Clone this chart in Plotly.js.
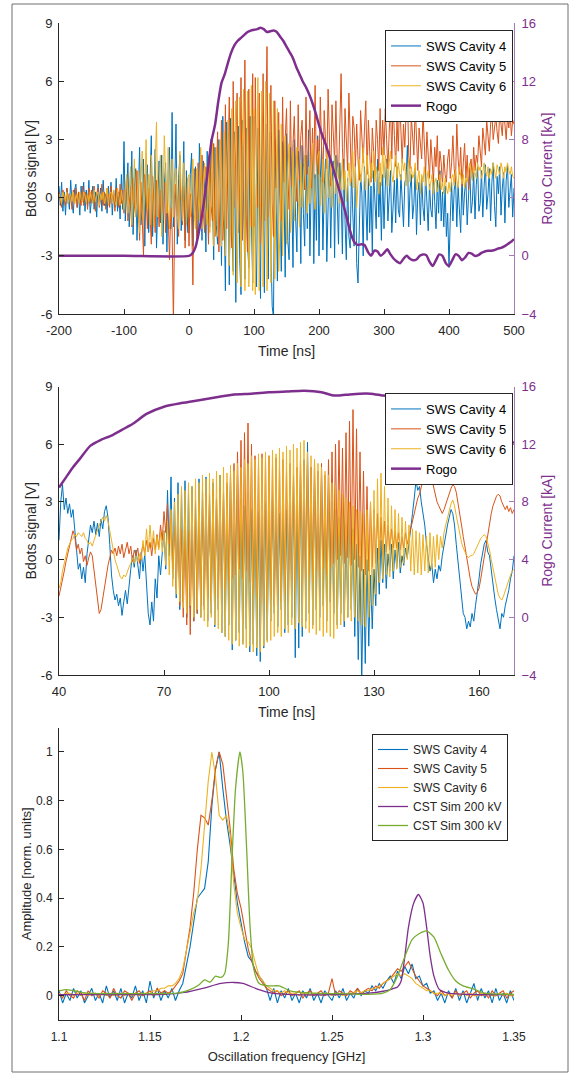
<!DOCTYPE html>
<html>
<head>
<meta charset="utf-8">
<script src="https://cdn.plot.ly/plotly-3.0.1.min.js"></script>
<style>html,body{margin:0;padding:0;background:#fff;}#chart{width:577px;height:1074px;}</style>
</head>
<body>
<div id="chart"></div>
<script>
// ---------- sampling grids (uniform instrument sampling) ----------
function grid(start, step, n) { const a = []; for (let i = 0; i < n; i++) a.push(+(start + i * step).toFixed(4)); return a; }

// ---------- Panel 1: full pulse, -200..500 ns, 2 ns samples ----------
const time1 = grid(-200, 2, 351);
const cav4_p1 = [
 0.6,-0.4,0.8,-0.7,0.3,-0.9,0.5,0.1,-0.6,0.9,-0.3,-0.8,0.4,0.7,-0.5,0.2,-0.9,0.6,-0.2,0.8,
 -0.7,0.4,-0.4,0.9,-0.8,0.1,0.6,-0.6,0.3,-1.0,0.7,-0.2,0.5,-0.7,0.9,-0.4,0.2,-0.8,0.6,-0.3,
 0.8,-0.9,0.4,-0.5,1.0,-0.7,0.3,-1.1,1.2,-0.6,
 2.9,-1.2,0.8,1.8,-1.5,-0.4,2.4,-1.9,0.6,1.5,-2.2,0.3,2.6,-1.4,-0.6,2.0,-2.5,1.1,1.7,-1.8,
 0.4,3.2,-2.0,0.9,2.5,-2.6,-0.5,1.9,-1.3,2.2,-2.4,0.6,1.8,-2.8,1.2,2.6,-1.6,4.4,-1.5,0.5,
 3.8,-2.4,1.0,2.2,-1.7,-0.3,2.9,-2.2,1.4,-1.8,
 -1.8,1.2,2.3,-2.5,0.4,1.6,-1.2,-2.1,2.8,-0.6,-2.2,1.9,0.5,-2.8,2.4,-1.0,-1.5,3.0,-0.8,-3.2,
 2.6,-1.4,-2.4,3.0,0.6,-3.5,4.2,-2.0,-4.8,3.9,1.2,-4.5,4.1,-1.6,-3.8,3.4,-5.4,2.2,3.7,-3.2,
 -5.0,4.0,0.8,-4.2,3.6,-2.4,-3.6,4.2,-1.2,-4.4,
 4.2,-2.0,-4.6,3.6,0.5,-5.2,4.3,-1.8,-4.9,3.8,1.0,-4.2,3.4,-2.6,-5.6,-6.2,3.0,0.2,-4.3,3.5,
 -1.2,-3.8,2.9,0.8,-4.1,3.3,-2.2,-3.2,2.6,0.4,-3.6,3.0,-1.0,-2.8,2.4,1.2,-3.4,2.7,-0.8,-2.5,
 2.2,-1.6,3.5,-3.0,0.6,2.4,-3.4,1.2,-2.2,3.2,
 -3.0,1.0,2.6,-2.7,0.4,2.0,-3.3,-1.0,2.4,-2.6,0.8,1.9,-3.1,2.2,-0.6,-2.4,1.8,0.2,-2.9,2.0,
 -1.2,-3.2,1.0,-2.0,-2.6,1.5,-0.8,-2.5,1.8,-3.4,-4.4,-1.4,1.2,0.2,-3.0,1.6,-0.6,-2.2,1.0,-1.8,
 0.6,-2.8,1.4,-0.4,-1.6,2.0,-1.0,0.8,-2.2,1.2,
 -1.6,0.6,2.0,-1.2,0.2,1.4,-1.8,-0.4,0.9,-1.3,1.6,-0.6,-1.0,1.2,-0.2,-1.5,0.8,1.0,2.7,-1.5,
 0.4,1.2,-1.1,-0.3,1.5,-1.9,0.2,0.8,-1.4,1.1,-0.5,-1.2,1.3,0.1,-1.7,0.7,-0.6,-1.0,1.2,-0.2,
 -1.6,0.9,-0.8,1.4,-1.2,0.3,-1.5,0.6,-2.0,-0.8,
 -3.6,-1.0,0.8,-1.2,0.4,1.0,-1.5,0.6,-0.4,-1.8,1.2,-0.9,0.3,0.9,-1.4,0.5,1.5,-0.8,-0.2,1.3,
 -1.1,0.7,1.6,-0.7,-0.3,1.4,-1.0,0.6,1.7,-0.6,0.2,1.5,-1.2,0.8,1.8,-0.4,-1.5,1.1,0.2,1.6,
 -0.9,0.5,1.3,-1.3,0.9,1.7,-0.5,0.4,1.2,-1.0,
 0.5];
const cav5_p1 = [
 0.3,-0.2,-0.5,0.4,0.1,-0.4,0.5,-0.3,0.2,0.0,-0.6,0.4,-0.3,0.5,-0.5,0.3,-0.1,-0.4,0.6,-0.4,
 0.3,0.1,-0.6,0.5,-0.3,0.4,-0.2,0.6,-0.7,0.2,0.5,-0.5,-0.1,0.7,-0.4,0.3,-0.6,0.5,0.0,-0.5,
 0.6,-0.3,0.4,-0.7,0.5,-0.2,-0.5,0.7,-0.3,0.4,
 -0.8,0.4,0.9,-1.2,-0.2,0.6,-1.5,1.0,-0.4,-0.9,1.4,-0.6,-2.2,0.8,-1.0,-3.0,1.2,0.2,-1.6,0.5,
 -0.8,-2.4,1.1,-0.4,-1.8,0.9,0.2,-1.5,0.4,-1.2,-0.6,0.8,-1.8,-0.2,-1.0,-3.2,-0.5,-1.6,-6.5,-1.0,
 0.7,-0.8,-2.0,1.2,-0.4,-1.4,0.6,-2.6,-0.6,1.0,
 -2.5,0.2,-1.0,-4.5,1.5,-0.6,-2.2,1.8,0.4,-1.5,2.2,-0.8,-1.8,1.6,0.3,-2.4,2.0,-0.4,-1.2,2.8,
 -2.0,0.6,3.4,-2.8,1.0,4.0,-2.2,-0.6,4.8,-1.6,2.0,5.2,-1.0,-2.6,6.0,-0.5,2.4,5.4,-1.8,0.8,
 6.2,-2.2,1.4,7.1,-0.8,-2.8,5.6,0.6,-1.5,6.4,
 -1.5,6.2,0.8,-0.5,5.4,-2.4,0.2,6.4,-1.2,3.0,7.8,-1.0,1.6,5.8,-0.2,-2.0,5.0,0.5,2.2,4.4,
 0.2,-1.2,5.2,0.8,3.0,4.6,1.2,-0.6,5.0,0.6,2.8,4.2,1.5,-0.2,4.8,0.9,3.2,4.0,1.8,0.4,
 5.2,1.2,2.6,4.5,0.5,3.6,1.0,5.8,1.4,3.0,
 1.2,5.2,2.6,0.8,4.5,3.0,1.5,5.6,2.2,0.6,4.8,3.4,1.8,5.0,2.0,1.0,4.2,6.4,2.6,1.0,
 4.6,3.2,1.4,5.4,2.4,0.8,4.2,3.6,1.6,3.8,2.0,0.9,4.5,2.8,1.8,3.6,5.0,1.2,4.0,2.4,
 0.8,3.6,2.6,1.2,4.0,3.0,1.4,4.6,2.2,4.0,
 2.2,4.6,3.0,1.5,3.4,4.8,2.0,5.0,3.2,1.6,4.0,2.4,5.2,3.6,1.8,3.8,2.6,4.4,5.6,2.2,
 1.5,4.2,3.0,2.2,4.8,3.4,1.4,3.6,2.8,2.0,4.4,3.0,1.2,3.4,2.2,1.0,3.0,2.0,0.8,2.6,
 1.6,3.2,0.9,2.4,1.8,0.6,2.2,1.2,0.8,2.0,
 2.5,1.0,1.8,3.2,1.5,0.8,3.8,2.0,1.2,2.6,0.6,1.8,2.8,1.0,2.2,0.4,1.6,2.0,0.9,2.6,
 1.4,2.2,1.8,3.2,2.4,1.6,3.6,2.8,2.2,4.0,3.0,2.4,3.8,4.4,3.0,3.6,4.2,3.4,2.8,4.4,
 3.6,3.2,4.6,3.8,3.0,4.2,3.6,4.4,3.2,4.0,
 3.8];
const cav6_p1 = [
 0.2,-0.1,-0.3,0.3,0.0,-0.2,0.3,-0.3,0.1,0.2,-0.2,0.3,-0.3,0.0,0.2,-0.3,0.3,-0.1,-0.2,0.3,
 0.1,-0.3,0.2,-0.2,0.3,0.0,-0.3,0.4,-0.2,0.1,0.3,-0.4,0.2,-0.1,0.3,-0.3,0.0,0.5,-0.4,0.2,
 0.3,-0.3,0.4,-0.2,-0.4,0.5,0.1,-0.4,0.4,-0.2,
 -0.6,0.4,1.2,-0.8,0.2,1.6,-1.4,0.6,2.0,-1.0,-0.2,1.4,-1.8,0.8,2.4,-1.2,0.3,3.0,-0.6,1.2,
 -1.4,2.2,0.4,-1.5,1.8,3.9,-1.0,0.6,2.2,-2.0,-0.4,3.2,1.0,-0.8,2.6,-1.6,0.4,2.0,-1.0,0.8,
 1.5,-0.9,-1.6,2.4,0.2,-1.2,1.8,-0.4,-1.4,1.0,
 1.2,-1.0,0.6,2.0,-0.8,-1.6,1.5,0.4,-1.2,2.6,-1.6,0.8,1.8,-0.5,-1.4,2.2,-1.8,0.6,3.0,-2.5,
 -1.0,2.6,-2.0,1.2,3.0,-2.5,-0.8,3.4,-3.0,1.8,4.0,-3.5,-1.2,4.6,-4.0,2.2,5.0,-4.4,-0.8,5.2,
 -4.6,2.6,5.6,-4.8,0.4,5.5,-4.6,-2.0,5.8,-4.8,
 4.6,-5.0,1.2,6.2,-4.8,-0.6,5.5,-4.6,1.6,6.0,-4.8,-0.2,5.4,-4.4,1.0,5.0,-4.2,0.2,4.6,-3.8,
 -1.8,3.8,-3.0,0.6,3.2,-2.4,1.4,2.8,-1.8,-0.4,2.4,-1.2,1.0,2.6,0.0,-1.5,1.8,-0.5,0.8,2.2,
 0.2,-0.8,1.6,-0.3,1.2,2.8,0.4,-0.6,1.4,2.2,
 2.4,-0.4,0.8,2.0,-0.8,1.2,2.6,0.0,1.0,1.8,-0.5,0.6,2.2,0.2,1.4,1.6,-0.3,0.9,2.0,0.4,
 1.4,-0.2,0.8,1.8,0.6,1.2,2.4,0.5,1.6,-0.5,0.8,2.0,0.8,1.4,2.6,1.0,0.4,2.2,1.2,0.6,
 1.8,1.0,2.4,0.8,1.6,1.2,0.2,1.8,0.6,2.6,
 1.0,2.2,1.6,0.6,1.8,2.4,1.2,0.8,1.6,2.2,1.0,1.8,1.2,0.9,2.0,1.4,1.8,0.6,1.4,2.0,
 0.8,1.6,1.0,1.2,1.8,0.4,1.0,1.4,0.2,1.2,0.8,1.6,0.6,1.0,1.4,0.4,0.9,1.2,0.2,0.8,
 1.0,0.3,0.6,1.2,0.4,0.8,0.2,1.0,0.5,0.2,
 0.8,0.3,1.0,1.2,0.6,1.4,0.9,0.5,1.6,1.0,0.7,1.2,0.5,1.0,0.8,1.4,1.8,1.2,0.9,1.6,
 1.2,1.0,1.8,1.4,1.6,1.0,1.3,1.8,1.4,1.1,1.6,1.0,1.5,1.2,1.8,1.3,1.0,1.7,1.4,1.2,
 1.8,1.5,1.0,1.6,1.3,1.8,1.4,1.2,1.6,1.1,
 1.0];
const rogoT1 = [-200, -100].concat(grid(0, 5, 101));
const rogo1 = [0, 0,
 0.0,0.15,0.6,1.6,2.8,4.4,6.3,8.0,9.0,10.6,
 11.9,12.5,13.3,14.0,14.5,14.8,15.0,15.2,15.4,15.5,
 15.55,15.6,15.7,15.6,15.4,15.45,15.5,15.4,15.1,14.8,
 14.4,14.0,13.6,13.0,12.5,12.0,11.6,11.1,10.5,9.8,
 9.0,8.3,7.7,7.0,6.3,5.5,4.7,3.9,3.1,2.2,
 1.4,0.9,0.75,0.8,0.75,0.3,0.0,0.35,0.3,0.0,
 0.2,0.45,0.1,-0.2,-0.4,-0.5,-0.2,0.0,-0.2,-0.3,
 -0.25,0.0,0.1,0.05,-0.4,-0.7,-0.3,0.1,0.0,-0.5,
 -0.7,-0.3,0.1,0.0,-0.3,-0.1,0.2,0.15,0.0,0.05,
 0.2,0.3,0.35,0.35,0.4,0.5,0.55,0.65,0.8,0.95,
 1.15];

// ---------- Panel 2: zoom 40..170 ns, 0.5 ns samples ----------
const time2 = grid(40, 0.5, 261);
const cav4_p2 = [
 1.0,3.0,3.9,2.6,3.2,2.4,2.9,2.2,2.6,1.5,0.2,-0.5,-0.2,-1.0,-0.4,-1.2,0.3,1.2,1.8,1.4,
 2.0,1.3,1.9,1.2,2.1,1.6,2.5,2.8,2.2,0.8,-0.8,-1.6,-2.1,-1.8,-2.4,-2.0,-2.9,-2.2,-1.6,-2.3,
 -1.2,-0.5,0.2,-0.4,0.5,-0.2,-1.0,0.4,-0.6,0.3,-1.5,-2.8,-3.4,-2.2,-3.2,-1.0,-2.0,0.2,-0.8,0.5,
 1.5,-0.5,3.6,0.2,4.3,-1.0,3.2,-2.0,4.0,-2.6,3.6,-2.2,4.1,-3.0,3.5,-2.5,3.8,-3.2,3.0,-2.8,
 4.2,-3.0,3.6,-2.4,4.3,-3.2,3.4,-2.8,4.0,-3.5,3.2,-2.6,4.4,-3.8,3.5,-4.0,3.8,-3.4,4.5,-4.7,
 3.6,-4.2,4.4,-3.8,3.2,-4.4,2.8,-3.6,3.5,-4.8,2.6,-4.4,3.2,-5.0,2.5,-5.3,2.8,-4.6,3.0,-4.2,
 2.8,-3.2,3.4,-2.8,3.0,-3.5,2.4,-2.6,3.2,-3.8,2.6,-3.4,3.8,-3.0,4.2,-5.1,3.6,-4.6,4.6,-4.0,
 5.2,-3.2,6.1,-2.8,4.8,-3.4,4.2,-2.6,3.6,-3.0,4.4,-2.4,3.2,-3.2,3.8,-2.2,3.0,-2.8,2.6,-3.4,
 2.2,-2.8,2.6,-3.5,1.8,-3.0,2.4,-2.6,1.6,-4.0,0.8,-5.2,0.2,-6.3,-0.5,-5.4,0.0,-4.5,-0.8,-3.6,
 -0.5,-2.4,0.6,-1.8,1.0,-1.2,0.8,-1.5,0.3,-0.6,0.8,-1.0,0.5,-0.4,0.9,-0.7,0.2,-0.3,0.6,0.1,
 0.8,1.4,2.4,3.2,4.1,3.6,3.8,3.0,2.4,1.8,0.8,0.0,-0.6,-0.2,-1.2,-0.5,-1.0,-0.3,-0.6,0.2,
 0.8,1.2,1.8,2.2,2.6,2.4,1.8,0.8,-0.2,-1.2,-2.0,-2.8,-3.0,-3.6,-3.2,-3.5,-2.8,-3.2,-2.4,-1.8,
 -1.0,-0.2,0.4,0.8,1.0,0.4,0.2,-0.6,-1.2,-2.0,-2.6,-3.2,-3.6,-2.8,-3.0,-2.4,-2.0,-1.6,-1.0,-0.6,
 0.2];
const cav5_p2 = [
 -1.9,-1.5,-1.0,-0.6,-0.1,0.3,0.8,1.1,1.5,1.2,0.5,0.8,0.3,0.6,-0.1,0.2,-0.3,0.1,0.4,0.2,
 -0.5,-1.4,-2.2,-2.8,-2.6,-2.0,-1.4,-0.8,-0.3,0.1,0.5,0.3,0.6,0.2,0.7,0.3,0.8,0.1,0.5,0.9,
 0.3,0.7,-0.1,0.5,0.2,0.6,-0.2,0.4,0.8,0.3,1.0,0.4,0.9,0.2,1.1,0.5,1.3,0.6,1.8,1.0,
 2.5,1.4,2.9,0.8,2.2,-0.5,1.8,-1.5,2.4,-2.4,1.6,-3.0,2.0,-3.4,1.5,-3.9,2.6,-3.2,2.2,-2.8,
 3.0,-2.4,2.8,-2.6,3.4,-2.0,3.0,-2.2,3.6,-1.8,3.2,-2.0,3.8,-1.5,3.5,-1.6,4.0,-1.2,4.4,-1.0,
 5.0,-0.8,5.6,-0.5,6.2,-1.0,6.6,-0.6,7.1,-1.2,6.0,-1.8,5.4,-2.0,5.0,-2.4,5.5,-2.2,5.2,-2.6,
 5.4,-2.0,5.0,-2.4,5.3,-1.8,4.8,-2.2,5.2,-1.6,4.6,-1.8,5.0,-1.2,4.4,-1.6,4.8,-1.0,5.2,-1.4,
 5.0,-1.0,5.4,-0.8,4.8,-1.2,5.2,-0.6,4.6,-1.0,5.0,-0.5,4.4,-0.8,5.2,-0.4,5.6,-0.2,6.0,0.0,
 6.2,0.2,5.8,-0.2,6.6,0.1,7.2,-0.3,7.8,0.0,6.8,-0.4,5.6,-0.6,4.6,-0.8,3.8,-0.6,3.0,-0.4,
 2.6,-0.2,2.4,0.0,2.2,0.2,2.0,0.4,1.8,0.5,1.6,0.6,1.5,0.6,1.4,0.5,1.2,0.6,1.4,0.8,
 1.2,1.6,2.0,2.4,2.8,3.2,3.4,3.8,4.2,4.5,4.8,4.9,4.6,4.2,3.8,3.4,3.0,2.8,2.6,2.4,
 2.6,2.9,3.2,3.5,3.7,3.9,3.8,3.5,3.0,2.4,1.8,1.2,0.6,0.0,-0.6,-1.0,-1.4,-1.6,-1.8,-1.7,
 -1.5,-1.0,-0.4,0.2,0.8,1.4,1.9,2.4,2.8,3.1,3.3,3.4,3.3,3.0,2.8,2.6,2.8,2.5,2.7,2.4,
 2.6];
const cav6_p2 = [
 -1.5,-1.2,-0.6,-0.2,0.3,0.6,0.8,1.0,1.1,1.3,1.2,1.4,1.3,1.2,1.4,1.1,1.0,0.8,0.9,0.7,
 1.0,1.3,1.5,1.8,2.0,2.2,2.0,2.3,2.0,1.5,0.8,0.3,0.0,-0.3,-0.6,-0.9,-1.0,-0.8,-0.9,-0.6,
 -0.4,-0.2,0.1,-0.2,0.2,-0.1,0.3,0.0,1.0,0.2,1.6,0.4,1.8,0.6,1.5,0.3,1.2,0.5,1.4,0.4,
 1.5,-0.3,2.0,-0.8,2.6,-1.4,3.0,-1.8,3.4,-2.2,3.8,-2.5,3.6,-2.8,4.0,-2.4,3.8,-3.0,4.2,-2.6,
 4.0,-3.0,4.4,-3.2,4.2,-3.5,4.5,-3.0,4.2,-3.4,4.6,-3.6,4.4,-3.8,4.8,-4.0,4.5,-4.2,4.9,-4.4,
 4.6,-4.2,5.0,-4.5,4.8,-4.4,5.2,-4.6,5.0,-4.5,5.4,-4.8,5.2,-4.6,5.5,-4.8,5.3,-4.5,5.6,-4.3,
 5.4,-4.2,5.7,-4.0,5.5,-3.8,5.8,-4.0,5.6,-3.6,5.9,-3.8,5.7,-3.4,6.0,-3.6,5.8,-3.3,6.1,-3.5,
 6.2,-3.6,5.6,-3.8,5.4,-3.6,5.2,-3.9,5.0,-3.7,4.8,-4.0,4.6,-3.8,4.4,-4.0,4.0,-4.1,3.8,-3.6,
 3.6,-3.4,3.4,-3.2,3.2,-3.0,3.0,-3.2,2.8,-3.0,2.6,-3.2,2.5,-3.4,2.4,-3.5,2.6,-3.0,3.0,-2.4,
 3.6,-1.8,4.2,-1.2,4.5,-1.0,3.8,-0.8,3.2,-0.9,2.8,-0.6,2.6,-0.5,2.4,-0.4,2.2,-0.2,2.0,0.0,
 1.8,-0.6,1.6,-0.8,1.5,-0.7,1.4,-0.8,1.3,-0.6,1.2,-0.7,1.4,-0.5,1.2,-0.4,1.3,0.0,1.2,0.6,
 1.4,1.8,2.2,2.6,2.9,3.1,2.8,2.3,1.8,1.3,0.9,0.6,0.4,0.2,0.1,0.2,0.2,0.3,0.5,0.7,
 0.9,1.1,1.2,1.3,1.2,0.9,0.5,0.0,-0.5,-1.0,-1.4,-1.8,-2.0,-2.1,-1.9,-1.6,-1.3,-1.0,-0.8,-0.6,
 -0.5];
const rogoT2 = [40,42,44,46,49,52,55,58,61,65,70,75,80,85,90,95,100,105,110,115,118,120,123,126,129,132,135,140,145,150,155,160,165,168,170];
const rogo2 = [9.0,9.7,10.4,11.0,11.9,12.3,12.6,13.0,13.4,14.1,14.6,14.85,15.05,15.25,15.45,15.5,15.6,15.65,15.7,15.6,15.4,15.38,15.45,15.5,15.5,15.4,15.3,15.0,14.6,14.1,13.6,13.1,12.6,12.3,12.1];

// ---------- Panel 3: spectra, 1.10..1.35 GHz, 2 MHz bins ----------
const freq = grid(1.1, 0.002, 126);
const cav4_fft = [
 0.02,-0.03,0.01,-0.02,0.03,-0.01,0.02,-0.03,0.00,0.03,-0.02,0.01,-0.03,0.04,-0.01,0.02,-0.02,0.03,-0.03,0.01,-0.01,0.04,-0.02,0.02,-0.03,
 0.06,-0.01,0.03,-0.02,0.02,-0.01,0.03,-0.02,0.02,0.05,0.12,0.20,0.30,0.40,0.42,0.44,0.55,0.78,0.93,1.0,0.85,0.72,0.62,0.50,0.38,
 0.30,0.22,0.16,0.14,0.10,0.08,0.06,0.03,-0.02,0.03,-0.03,0.02,-0.01,0.03,-0.02,0.01,-0.03,0.02,-0.01,0.03,-0.02,0.01,-0.03,0.02,0.00,
 -0.02,0.02,-0.01,0.03,-0.02,0.01,-0.01,0.03,0.00,0.02,0.01,0.04,0.02,0.05,0.03,0.06,0.08,0.05,0.10,0.07,0.12,0.09,0.13,0.07,0.08,
 0.04,0.05,0.01,0.02,-0.02,0.01,-0.03,0.02,-0.01,0.03,-0.02,0.02,-0.03,0.01,0.05,-0.02,0.03,-0.01,0.02,-0.03,0.03,-0.02,0.01,-0.03,0.02,-0.02];
const cav5_fft = [
 0.01,-0.01,0.02,0.00,-0.01,0.02,0.01,-0.02,0.02,0.00,0.01,-0.01,0.02,0.01,-0.01,0.03,0.00,-0.01,0.02,0.01,-0.02,0.01,0.02,0.00,0.01,
 0.02,0.00,0.03,0.01,0.02,0.01,0.02,0.04,0.06,0.09,0.18,0.28,0.42,0.60,0.74,0.73,0.70,0.80,0.93,1.0,0.95,0.83,0.69,0.52,0.42,
 0.36,0.28,0.19,0.14,0.10,0.07,0.05,0.03,0.02,0.01,0.02,0.00,0.01,0.02,0.00,0.01,0.02,-0.01,0.01,0.02,0.00,0.01,0.02,0.00,0.01,
 0.07,0.00,0.02,0.01,0.00,0.02,0.01,0.03,0.01,0.02,0.03,0.02,0.04,0.03,0.05,0.06,0.07,0.09,0.11,0.10,0.12,0.14,0.11,0.08,0.06,
 0.04,0.03,0.02,0.01,0.00,0.02,0.00,0.01,-0.01,0.02,0.00,0.01,0.02,-0.01,0.01,0.02,0.00,0.01,-0.01,0.02,0.00,0.01,0.02,-0.01,0.01,0.02];
const cav6_fft = [
 0.01,0.00,0.01,0.01,0.00,0.01,0.00,0.01,0.00,0.01,0.01,0.00,0.01,0.00,0.01,0.00,0.01,0.01,0.00,0.01,0.00,0.01,0.00,0.01,0.01,
 0.01,0.02,0.02,0.03,0.03,0.04,0.04,0.05,0.07,0.11,0.18,0.26,0.34,0.39,0.52,0.70,0.88,1.0,0.90,0.74,0.72,0.74,0.66,0.46,0.34,
 0.28,0.23,0.22,0.19,0.13,0.08,0.06,0.04,0.03,0.02,0.02,0.01,0.02,0.01,0.01,0.01,0.00,0.01,0.01,0.00,0.01,0.01,0.00,0.01,0.01,
 0.00,0.01,0.01,0.00,0.01,0.01,0.01,0.02,0.01,0.02,0.02,0.03,0.03,0.04,0.05,0.06,0.07,0.08,0.09,0.08,0.09,0.08,0.07,0.05,0.04,
 0.03,0.02,0.02,0.01,0.01,0.01,0.00,0.01,0.00,0.01,0.00,0.01,0.00,0.01,0.00,0.00,0.01,0.00,0.01,0.00,0.00,0.01,0.00,0.01,0.00,0.00];
const sim200F = [1.100,1.140,1.158,1.169,1.179,1.189,1.196,1.201,1.209,1.217,1.229,1.250,1.270,1.278,1.282,1.286,1.288,1.290,1.292,1.2949,1.2975,1.300,1.302,1.304,1.306,1.309,1.314,1.330,1.350];
const sim200A = [0.004,0.004,0.005,0.013,0.03,0.05,0.054,0.05,0.027,0.01,0.004,0.004,0.01,0.018,0.025,0.035,0.06,0.16,0.28,0.38,0.415,0.38,0.28,0.16,0.08,0.025,0.01,0.004,0.004];
const sim300F = [1.100,1.104,1.108,1.115,1.130,1.150,1.165,1.172,1.177,1.180,1.183,1.186,1.189,1.191,1.193,1.195,1.197,1.1994,1.201,1.203,1.205,1.207,1.210,1.215,1.221,1.227,1.239,1.255,1.270,1.278,1.282,1.286,1.290,1.294,1.298,1.302,1.306,1.310,1.314,1.318,1.322,1.328,1.334,1.350];
const sim300A = [0.02,0.025,0.02,0.01,0.008,0.008,0.01,0.025,0.045,0.065,0.055,0.08,0.075,0.09,0.21,0.55,0.85,1.0,0.92,0.62,0.28,0.11,0.05,0.04,0.04,0.02,0.01,0.008,0.005,0.01,0.025,0.08,0.16,0.23,0.255,0.266,0.24,0.17,0.105,0.06,0.04,0.027,0.01,0.005];

// ---------- tick labels ----------
const ticks1X = [-200,-100,0,100,200,300,400,500];
const ticks2X = [40,70,100,130,160];
const ticksV = [-6,-3,0,3,6,9];
const ticksKA = [-4,0,4,8,12,16];
const ticks3X = [1.1,1.15,1.2,1.25,1.3,1.35];
const ticks3XText = ['1.1','1.15','1.2','1.25','1.3','1.35'];
const ticks3Y = [0,0.2,0.4,0.6,0.8,1];
const ticks3YText = ['0','0.2','0.4','0.6','0.8','1'];

// ---------- styling ----------
const FONT = 'Liberation Sans, Arial, Helvetica, sans-serif';
const AX = '#262626';
const C4 = '#0072BD', C5 = '#D95319', C6 = '#EDB120', CP = '#7E2F8E', CG = '#77AC30';
const XD = [59/577, 514/577];
const Y1 = [1-314/1074, 1-23.3/1074];
const Y2 = [1-675/1074, 1-386.5/1074];
const Y3 = [1-1020/1074, 1-727.6/1074];

function line(x, y, name, color, w, xa, ya, leg, shape) {
  return {type:'scatter', mode:'lines', x:x, y:y, name:name, xaxis:xa, yaxis:ya, legend:leg,
    line:{color:color, width:w, shape:shape || 'linear', smoothing:0.6}, hoverinfo:'skip'};
}
const data = [
  line(time1, cav4_p1, 'SWS Cavity 4', C4, 1, 'x', 'y', 'legend'),
  line(time1, cav5_p1, 'SWS Cavity 5', C5, 1, 'x', 'y', 'legend'),
  line(time1, cav6_p1, 'SWS Cavity 6', C6, 1, 'x', 'y', 'legend'),
  line(rogoT1, rogo1, 'Rogo', CP, 2.5, 'x', 'y2', 'legend', 'spline'),
  line(time2, cav4_p2, 'SWS Cavity 4', C4, 1, 'x2', 'y3', 'legend2'),
  line(time2, cav5_p2, 'SWS Cavity 5', C5, 1, 'x2', 'y3', 'legend2'),
  line(time2, cav6_p2, 'SWS Cavity 6', C6, 1, 'x2', 'y3', 'legend2'),
  line(rogoT2, rogo2, 'Rogo', CP, 2.5, 'x2', 'y4', 'legend2', 'spline'),
  line(freq, cav4_fft, 'SWS Cavity 4', C4, 1.1, 'x3', 'y5', 'legend3'),
  line(freq, cav5_fft, 'SWS Cavity 5', C5, 1.1, 'x3', 'y5', 'legend3'),
  line(freq, cav6_fft, 'SWS Cavity 6', C6, 1.1, 'x3', 'y5', 'legend3'),
  line(sim200F, sim200A, 'CST Sim 200 kV', CP, 1.3, 'x3', 'y5', 'legend3', 'spline'),
  line(sim300F, sim300A, 'CST Sim 300 kV', CG, 1.3, 'x3', 'y5', 'legend3', 'spline')
];

const base = {showgrid:false, zeroline:false, showline:true, linecolor:AX, linewidth:1,
  ticks:'inside', ticklen:5, tickwidth:1, tickcolor:AX, tickfont:{family:FONT, size:13, color:AX}, fixedrange:true};
function xax(anchor, range, vals, text, title, tsize, fsize, lso, tso) {
  return Object.assign({}, base, {domain:XD, anchor:anchor, range:range, tickmode:'array', tickvals:vals,
    ticktext:text, ticklabelstandoff:lso, tickfont:{family:FONT, size:fsize, color:AX},
    title:{text:title, font:{family:FONT, size:tsize, color:AX}, standoff:tso}});
}
function yl(anchor, dom, range, vals, text, title, tsize, fsize, tso) {
  return Object.assign({}, base, {domain:dom, anchor:anchor, range:range, tickmode:'array', tickvals:vals,
    ticktext:text, ticklabelstandoff:3, tickfont:{family:FONT, size:fsize, color:AX},
    title:{text:title, font:{family:FONT, size:tsize, color:AX}, standoff:tso}});
}
function yr(anchor, over) {
  return Object.assign({}, base, {overlaying:over, anchor:anchor, side:'right', range:[-4,16], tickmode:'array',
    tickvals:ticksKA, linecolor:'#a57bb3', tickcolor:'#a57bb3', ticklabelstandoff:4,
    tickfont:{family:FONT, size:13, color:CP},
    title:{text:'Rogo Current [kA]', font:{family:FONT, size:14, color:CP}, standoff:6}});
}
const legBase = {bgcolor:'#ffffff', bordercolor:AX, borderwidth:1, xanchor:'right', yanchor:'top',
  tracegroupgap:0, itemwidth:30, itemclick:false, itemdoubleclick:false};

const layout = {
  width:577, height:1074, autosize:false, margin:{l:0, r:0, t:0, b:0},
  paper_bgcolor:'#ffffff', plot_bgcolor:'#ffffff', font:{family:FONT, color:AX}, showlegend:true,
  xaxis: xax('y', [-200,500], ticks1X, ticks1X.map(String), 'Time [ns]', 14, 13, 4, 9),
  yaxis: yl('x', Y1, [-6,9], ticksV, ticksV.map(String), 'Bdots signal [V]', 14, 13, 0),
  yaxis2: yr('x', 'y'),
  xaxis2: xax('y3', [40,170], ticks2X, ticks2X.map(String), 'Time [ns]', 14, 13, 4, 9),
  yaxis3: yl('x2', Y2, [-6,9], ticksV, ticksV.map(String), 'Bdots signal [V]', 14, 13, 0),
  yaxis4: yr('x2', 'y3'),
  xaxis3: xax('y5', [1.1,1.35], ticks3X, ticks3XText, 'Oscillation frequency [GHz]', 13, 12, 6, 8),
  yaxis5: yl('x3', Y3, [-0.1,1.1], ticks3Y, ticks3YText, 'Amplitude [norm. units]', 13, 12, 1),
  legend: Object.assign({}, legBase, {x:513/577, y:1-30/1074, font:{family:FONT, size:13, color:'#000'}}),
  legend2: Object.assign({}, legBase, {x:513/577, y:1-393/1074, font:{family:FONT, size:13, color:'#000'}}),
  legend3: Object.assign({}, legBase, {x:508/577, y:1-734/1074, font:{family:FONT, size:12, color:AX}}),
  shapes: [{type:'rect', xref:'paper', yref:'paper', x0:12/577, x1:568/577, y0:1-1072/1074, y1:1-4/1074,
    line:{color:'#6e6e6e', width:1}, fillcolor:'rgba(0,0,0,0)'}]
};

Plotly.newPlot('chart', data, layout, {staticPlot:true, displayModeBar:false});
</script>
</body>
</html>
